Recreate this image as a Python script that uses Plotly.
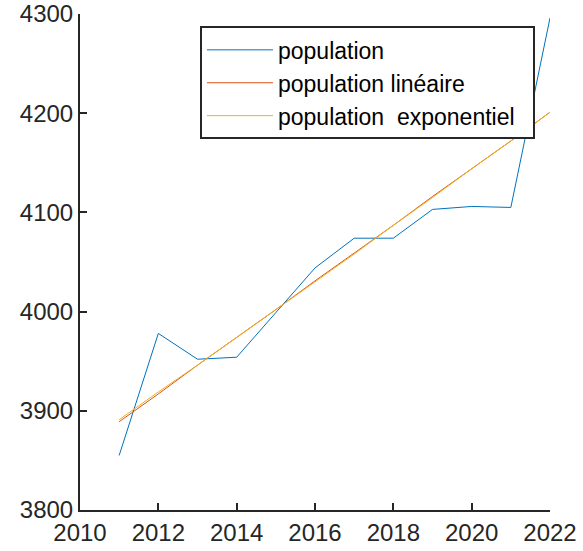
import plotly.graph_objects as go

years = [2011, 2012, 2013, 2014, 2015, 2016, 2017, 2018, 2019, 2020, 2021, 2022]
population = [3855, 3978, 3952, 3954, 3999, 4044, 4074, 4074, 4103, 4106, 4105, 4296]
population_lineaire = [3889, 3917, 3946, 3974, 4002, 4031, 4059, 4087, 4116, 4144, 4172, 4201]
population_exponentiel = [3891, 3919, 3946, 3974, 4002, 4030, 4058, 4087, 4115, 4144, 4172, 4201]

names = ["population", "population linéaire", "population\u00a0 exponentiel\u00a0\u00a0"]
colors = ["#0072BD", "#D95319", "#EDB120"]

x_ticks = [2010, 2012, 2014, 2016, 2018, 2020, 2022]
y_ticks = [3800, 3900, 4000, 4100, 4200, 4300]

fig = go.Figure()
for vals, name, col in zip([population, population_lineaire, population_exponentiel], names, colors):
    fig.add_trace(go.Scatter(x=years, y=vals, mode="lines", name=name,
                             line=dict(color=col, width=1), cliponaxis=False))

axis_common = dict(showgrid=False, zeroline=False, showline=True, linecolor="#262626",
                   linewidth=2, ticks="inside", ticklen=7, tickwidth=2, tickcolor="#262626",
                   mirror=False, automargin=False, ticklabeloverflow="allow",
                   tickfont=dict(family="Liberation Sans, Arial", size=24, color="#262626"))

fig.update_xaxes(range=[2010, 2022], tickvals=x_ticks, ticktext=[str(v) for v in x_ticks], **axis_common)
fig.update_yaxes(range=[3800, 4300], tickvals=y_ticks, ticktext=[str(v) for v in y_ticks], **axis_common)

fig.update_layout(
    width=583, height=551,
    margin=dict(l=80, r=33, t=14, b=41, autoexpand=False),
    paper_bgcolor="white", plot_bgcolor="white",
    showlegend=True,
    legend=dict(x=0.2553, y=0.975, xanchor="left", yanchor="top",
                bgcolor="white", bordercolor="#262626", borderwidth=2,
                font=dict(family="Liberation Sans, Arial", size=23, color="black"),
                itemwidth=66, tracegroupgap=0),
)

# remove the default 8px page margin so the figure fills the window exactly
fig.write_html("out.html", config={"displayModeBar": False},
               post_script="document.body.style.margin='0px';document.body.style.overflow='hidden';")
